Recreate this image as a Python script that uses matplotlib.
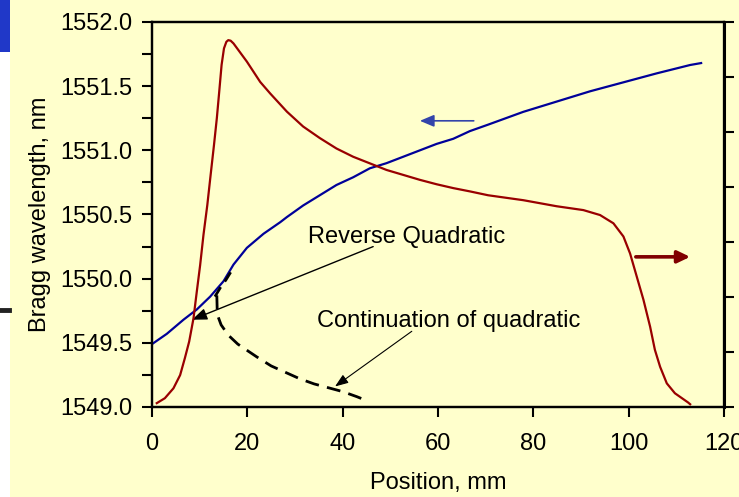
import matplotlib
matplotlib.use("Agg")
import matplotlib.pyplot as plt
from matplotlib.patches import Rectangle
from matplotlib.lines import Line2D
from matplotlib.ticker import MultipleLocator, FormatStrFormatter

plt.rcParams['font.family'] = ['Liberation Sans', 'DejaVu Sans']

# ---- data ----
blue_x = [0, 3.1, 6.6, 9.4, 12.2, 15.0, 17.1, 19.9, 23.4, 26.9, 28.3, 31.7, 35.2,
          38.7, 42.2, 45.7, 49.2, 52.7, 56.2, 59.7, 63.2, 66.7, 70.5, 77.9, 84.9,
          91.9, 98.9, 105.9, 112.9, 115.2]
blue_y = [1549.49, 1549.57, 1549.68, 1549.76, 1549.86, 1549.98, 1550.11, 1550.24,
          1550.35, 1550.44, 1550.48, 1550.57, 1550.65, 1550.73, 1550.79, 1550.86,
          1550.90, 1550.95, 1551.00, 1551.05, 1551.09, 1551.15, 1551.20, 1551.30,
          1551.38, 1551.46, 1551.53, 1551.60, 1551.665, 1551.68]

red_x = [1.0, 2.7, 4.5, 5.9, 6.9, 7.8, 8.7, 9.4, 10.1, 10.8, 11.6, 12.3, 13.0, 13.6,
         14.1, 14.6, 15.1, 15.6, 16.0, 16.5, 17.1, 19.9, 22.7, 24.8, 28.3, 31.7, 35.2,
         38.7, 42.2, 45.7, 49.2, 52.7, 56.2, 59.7, 63.2, 66.7, 70.5, 77.9, 84.9,
         90.5, 94.0, 96.8, 98.9, 100.3, 101.7, 103.1, 104.5, 105.5, 106.6, 108.0,
         109.7, 112.5, 112.9]
red_u = [0.07, 0.16, 0.34, 0.58, 0.89, 1.19, 1.61, 2.10, 2.58, 3.13, 3.67, 4.22, 4.76,
         5.25, 5.73, 6.22, 6.52, 6.64, 6.67, 6.66, 6.61, 6.28, 5.91, 5.70, 5.37, 5.10,
         4.89, 4.70, 4.55, 4.43, 4.31, 4.22, 4.13, 4.05, 3.98, 3.92, 3.85, 3.76, 3.65,
         3.58, 3.49, 3.34, 3.10, 2.79, 2.37, 1.95, 1.46, 1.04, 0.73, 0.43, 0.25,
         0.08, 0.05]

rq_x = [13.2, 14.5, 15.5, 16.5]
rq_y = [1549.86, 1549.94, 1549.99, 1550.05]

cq_x = [13.6, 13.7, 14.5, 16, 18, 20, 22, 25, 28, 31, 34, 37, 40, 43, 45]
cq_y = [1549.87, 1549.72, 1549.64, 1549.56, 1549.49, 1549.44, 1549.39, 1549.32,
        1549.27, 1549.22, 1549.18, 1549.15, 1549.12, 1549.08, 1549.05]

x_ticks = [0, 20, 40, 60, 80, 100, 120]
y_ticks = [1549.0, 1549.5, 1550.0, 1550.5, 1551.0, 1551.5, 1552.0]
r_ticks = [0, 1, 2, 3, 4, 5, 6, 7]

label_rq = "Reverse Quadratic"
label_cq = "Continuation of quadratic"
xlabel = "Position, mm"
ylabel = "Bragg wavelength, nm"

# ---- figure ----
W, H = 739, 497
fig = plt.figure(figsize=(W / 100, H / 100), dpi=100, facecolor='white')
fig.patches.append(Rectangle((10 / W, 0), 1 - 10 / W, 1, transform=fig.transFigure,
                             facecolor='#FFFFCC', edgecolor='none', zorder=-10))
fig.patches.append(Rectangle((0, 1 - 52 / H), 10 / W, 52 / H, transform=fig.transFigure,
                             facecolor='#2038C8', edgecolor='none', zorder=-9))
fig.lines.append(Line2D([0, 9 / W], [1 - 310 / H, 1 - 310 / H], transform=fig.transFigure,
                        color='#222222', lw=3.5))

ax = fig.add_axes([152 / W, (H - 407) / H, (724 - 152) / W, (407 - 22) / H])
ax.set_facecolor('none')
ax2 = ax.twinx()
ax2.set_facecolor('none')

fs = 17
ax.plot(blue_x, blue_y, color='#000099', lw=1.6, zorder=3)
ax2.plot(red_x, red_u, color='#990000', lw=1.6, zorder=3)

ax.plot(rq_x, rq_y, color='black', lw=2.0, dashes=(4, 2.5), zorder=4)
ax.plot(cq_x, cq_y, color='black', lw=2.0, dashes=(5, 3), zorder=4)

ax.set_xlim(0, 120)
ax.set_ylim(1549.0, 1552.0)
ax2.set_ylim(0, 7)

ax.set_xticks(x_ticks)
ax.set_yticks(y_ticks)
ax.yaxis.set_major_formatter(FormatStrFormatter('%.1f'))
ax.yaxis.set_minor_locator(MultipleLocator(0.25))
ax2.set_yticks(r_ticks)
ax2.tick_params(axis='y', labelright=False, direction='out', length=7, width=1.5)

ax.tick_params(axis='both', which='both', direction='out', length=7, width=1.5,
               labelsize=fs, top=False, right=False)
ax.tick_params(axis='x', pad=12)
ax.tick_params(axis='y', pad=7)

for a in (ax, ax2):
    for s in a.spines.values():
        s.set_linewidth(1.6)
ax2.spines['right'].set_linewidth(2.2)

ax.set_xlabel(xlabel, fontsize=fs, labelpad=12)
ax.set_ylabel(ylabel, fontsize=fs, labelpad=7)

# annotations
ax.text(32.7, 1550.28, label_rq, fontsize=fs, va='baseline', ha='left')
ax.text(34.55, 1549.625, label_cq, fontsize=fs, va='baseline', ha='left')

ax.annotate('', xy=(8.4, 1549.68), xytext=(46.4, 1550.25),
            arrowprops=dict(arrowstyle='-|>,head_length=0.9,head_width=0.35',
                            color='black', lw=1.0, mutation_scale=10,
                            shrinkA=0, shrinkB=0))
ax.annotate('', xy=(38.4, 1549.16), xytext=(54.5, 1549.59),
            arrowprops=dict(arrowstyle='-|>,head_length=0.8,head_width=0.3',
                            color='black', lw=0.8, mutation_scale=10,
                            shrinkA=0, shrinkB=0))
ax.annotate('', xy=(56.2, 1551.23), xytext=(67.5, 1551.23),
            arrowprops=dict(arrowstyle='-|>,head_length=0.85,head_width=0.36',
                            color='#3344AA', lw=1.2, mutation_scale=10,
                            shrinkA=0, shrinkB=0))
ax.annotate('', xy=(112.9, 1550.17), xytext=(101.5, 1550.17),
            arrowprops=dict(arrowstyle='-|>,head_length=0.75,head_width=0.36',
                            color='#800000', lw=2.6, mutation_scale=10,
                            shrinkA=0, shrinkB=0))

fig.savefig('out.png', dpi=100, facecolor=fig.get_facecolor())
